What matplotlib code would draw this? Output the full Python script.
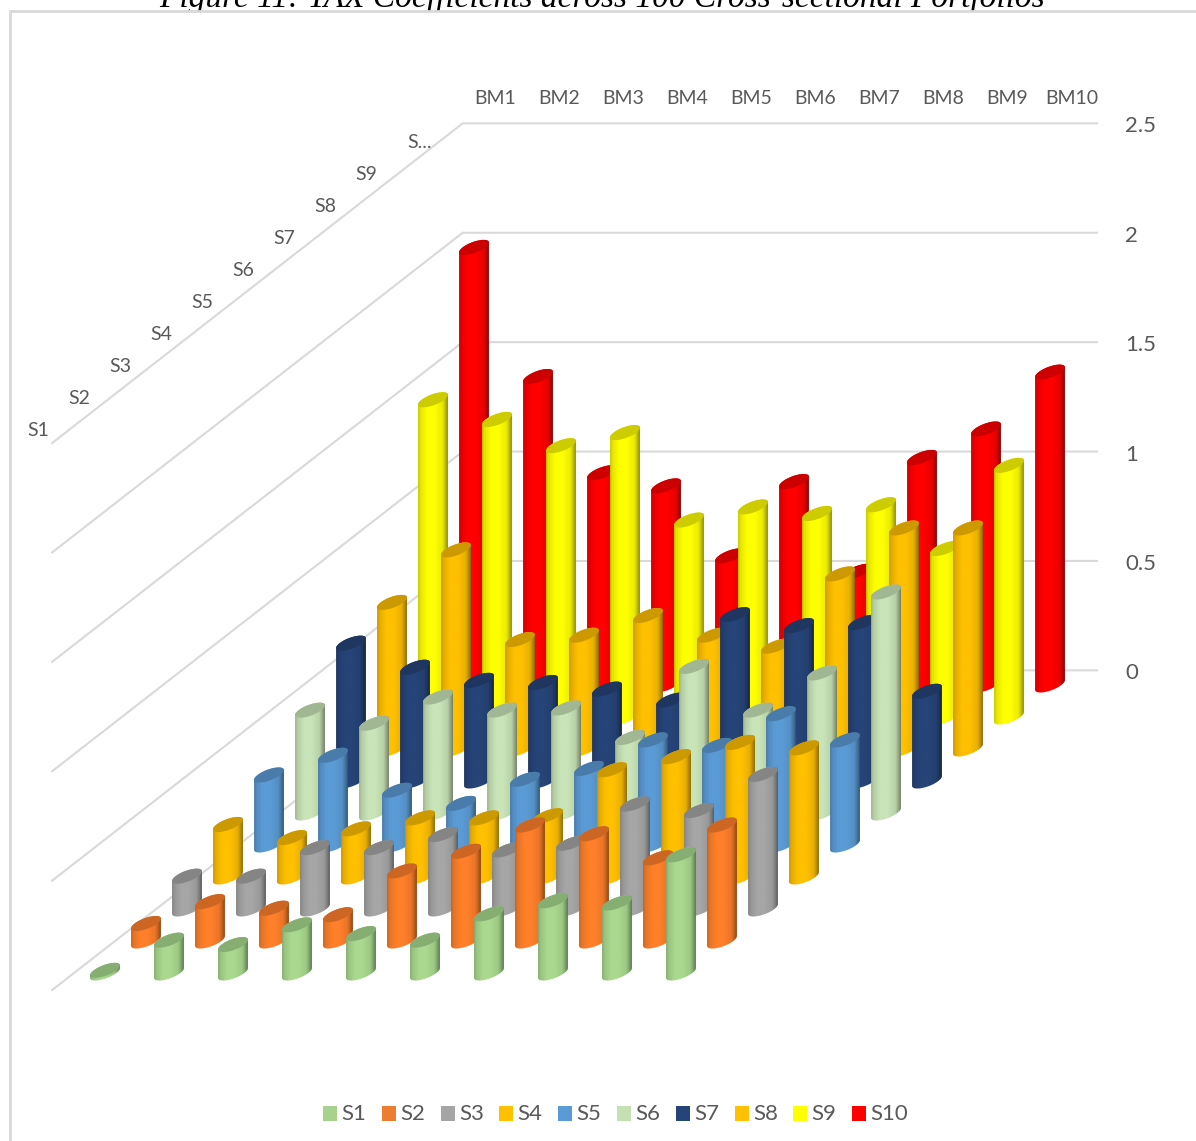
import numpy as np
import matplotlib
matplotlib.use("Agg")
import matplotlib.pyplot as plt
from matplotlib.patches import Polygon, Rectangle

bm_labels = ['BM1', 'BM2', 'BM3', 'BM4', 'BM5', 'BM6', 'BM7', 'BM8', 'BM9', 'BM10']
s_labels = ['S1', 'S2', 'S3', 'S4', 'S5', 'S6', 'S7', 'S8', 'S9', 'S10']
s_axis_labels = ['S1', 'S2', 'S3', 'S4', 'S5', 'S6', 'S7', 'S8', 'S9', 'S...']
val_ticks = [0, 0.5, 1, 1.5, 2, 2.5]

s1 = [0.012, 0.15, 0.13, 0.22, 0.18, 0.15, 0.27, 0.33, 0.32, 0.54]
s2 = [0.08, 0.18, 0.15, 0.12, 0.32, 0.41, 0.53, 0.49, 0.38, 0.53]
s3 = [0.15, 0.15, 0.28, 0.28, 0.34, 0.27, 0.30, 0.48, 0.45, 0.615]
s4 = [0.24, 0.18, 0.22, 0.27, 0.27, 0.28, 0.49, 0.55, 0.615, 0.59]
s5 = [0.32, 0.41, 0.25, 0.19, 0.30, 0.35, 0.48, 0.455, 0.60, 0.48]
s6 = [0.47, 0.41, 0.53, 0.47, 0.48, 0.345, 0.67, 0.47, 0.64, 1.01]
s7 = [0.63, 0.52, 0.46, 0.45, 0.42, 0.37, 0.76, 0.71, 0.725, 0.41]
s8 = [0.67, 0.91, 0.50, 0.52, 0.61, 0.52, 0.47, 0.80, 1.01, 1.01]
s9 = [1.45, 1.36, 1.24, 1.30, 0.90, 0.96, 0.93, 0.97, 0.77, 1.15]
s10 = [2.00, 1.41, 0.97, 0.91, 0.59, 0.93, 0.52, 1.04, 1.17, 1.43]
series = [s1, s2, s3, s4, s5, s6, s7, s8, s9, s10]

body_colors = ['#a9d98f', '#ff7f2a', '#a6a6a6', '#ffc000', '#5b9bd5',
               '#c9e4b8', '#264478', '#ffc000', '#ffff00', '#ff0000']
legend_colors = ['#a9d18e', '#ed7d31', '#a5a5a5', '#ffc000', '#5b9bd5',
                 '#c5e0b4', '#264478', '#ffc000', '#ffff00', '#ff0000']

# oblique projection, everything in image pixels
X0, Y0 = 105, 973
GRID_DY = 2
BM_DX = 64
S_DX, S_DY = 41, -32
UNIT = 218.8
RAD_BM = 0.178
RAD_S = 0.235


def project(bm, s, v=0):
    return X0 + BM_DX * bm + S_DX * s, Y0 + S_DY * s - UNIT * v


def shade(hexcol):
    rgb = np.array(matplotlib.colors.to_rgb(hexcol))
    pos = np.array([0, 0.08, 0.3, 0.55, 0.82, 0.93, 1.0])
    fac = np.array([0.78, 0.9, 1.0, 1.0, 0.92, 0.72, 0.55])
    t = np.linspace(0, 1, 60)
    f = np.interp(t, pos, fac)
    return np.clip(rgb[None, None, :] * f[None, :, None], 0, 1)


def cylinder(ax, bm, s, v, col, z):
    t = np.linspace(0, 2 * np.pi, 80)
    ex = RAD_BM * BM_DX * np.cos(t) + RAD_S * S_DX * np.sin(t)
    ey = RAD_S * S_DY * np.sin(t)
    cx, cy = project(bm, s, 0)
    topy = cy - UNIT * v
    # angle where the outline is furthest right, lower arc runs from there to the left
    t0 = np.arctan2(RAD_S * S_DX, RAD_BM * BM_DX)
    tt = np.linspace(t0, t0 + np.pi, 40)
    lx = RAD_BM * BM_DX * np.cos(tt) + RAD_S * S_DX * np.sin(tt)
    ly = RAD_S * S_DY * np.sin(tt)
    if ly.mean() < 0:
        lx, ly = -lx, -ly
    low = np.column_stack([cx + lx, cy + ly])
    up = np.column_stack([cx - lx, topy - ly])
    body = Polygon(np.vstack([low, up]), closed=True, transform=ax.transData,
                   fc='none', ec='none')
    ax.add_patch(body)
    im = ax.imshow(shade(col), extent=(cx + ex.min(), cx + ex.max(), cy + 10, topy - 10),
                   aspect='auto', zorder=z, interpolation='bilinear')
    im.set_clip_path(body)
    rgb = np.array(matplotlib.colors.to_rgb(col))
    ax.fill(cx + ex, topy + ey, color=rgb * 0.8, lw=0, zorder=z + 0.1)


fig = plt.figure(figsize=(11.96, 11.41), dpi=100)
ax = fig.add_axes([0, 0, 1, 1])

# caption above the chart, cut off by the image edge and the chart frame
ax.text(602, 7, 'Figure 11: TAX Coefficients across 100 Cross-sectional Portfolios',
        family='Liberation Serif', style='italic', size=24, ha='center', va='baseline',
        color='black', zorder=0)
ax.add_patch(Rectangle((10, 11), 1300, 1300, fc='white', ec='#d9d9d9', lw=2, zorder=1))

grid_col = '#d9d9d9'
for v in val_ticks:
    fx, fy = project(-0.525, -0.47, v)
    bx, by = project(-0.51, 9.52, v)
    ex_, ey_ = project(9.4, 9.52, v)
    ax.plot([fx, bx, ex_], [fy + GRID_DY, by + GRID_DY, ey_ + GRID_DY], color=grid_col,
            lw=1.5, zorder=2)
    ax.text(1125, by + GRID_DY + 3, str(v), family='Lato', size=16, color='#595959',
            ha='left', va='center', zorder=2)

for i, lab in enumerate(bm_labels):
    x, y = project(i, 9.55, 0)
    ax.text(x - 1, 99, lab, family='Lato', size=14, color='#595959', ha='center',
            va='center', zorder=2)
for j, lab in enumerate(s_axis_labels):
    lab_x = 38 + S_DX * j
    if lab == 'S...':
        lab_x = 420
    ax.text(lab_x, 430 + S_DY * j, lab, family='Lato', size=14, color='#595959',
            ha='center', va='center', zorder=2)

# back row first so front rows overlap it
for j in range(9, -1, -1):
    for i in range(10):
        cylinder(ax, i, j, series[j][i], body_colors[j], 3 + (9 - j) + i * 0.01)

# legend
leg_x = [323, 382, 441, 499, 558, 617, 676, 735, 793, 852]
for lab, col, lx in zip(s_labels, legend_colors, leg_x):
    ax.add_patch(Rectangle((lx, 1106), 14, 15, fc=col, ec='none', zorder=20))
    ax.text(lx + 18, 1114, lab, family='Lato', size=16, color='#595959', ha='left',
            va='center', zorder=20)

ax.set_xlim(0, 1196)
ax.set_ylim(1141, 0)
ax.axis('off')
fig.savefig('out.png', dpi=100)
